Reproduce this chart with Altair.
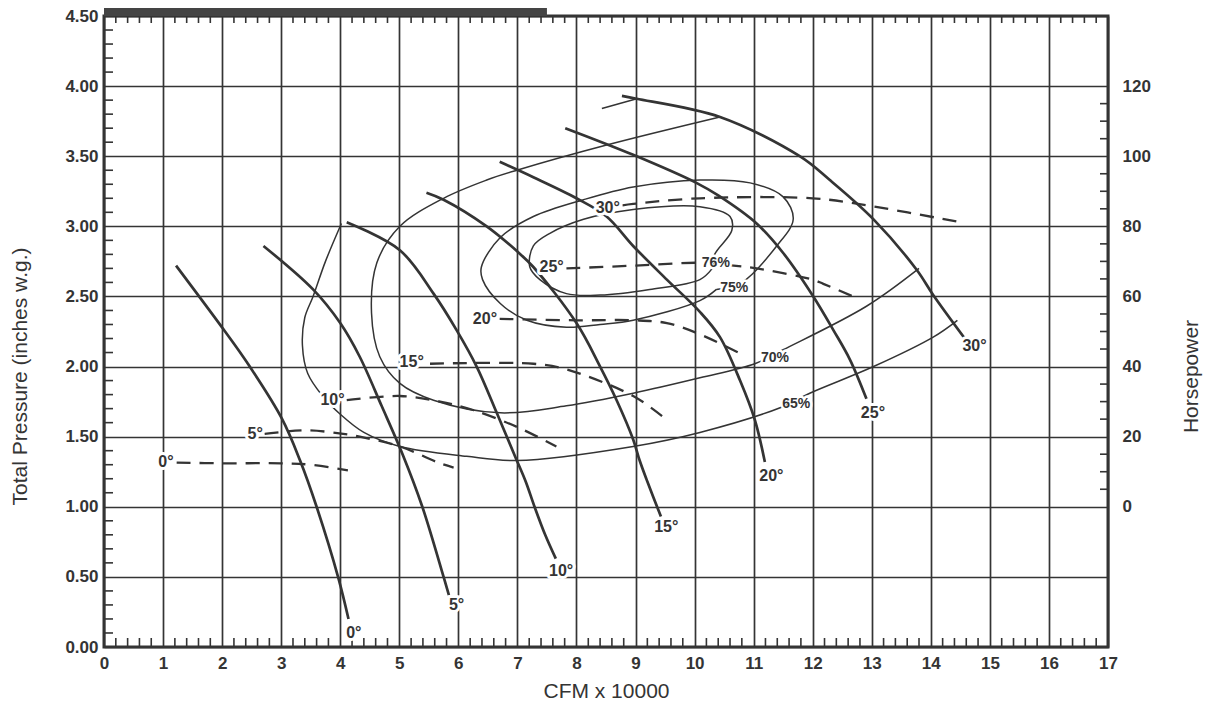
import altair as alt
import pandas as pd

W, H = 1004, 631
INK = "#343434"
FONT = "Liberation Sans"

# ---------------- axis values ----------------
x_major = list(range(0, 18))
y_major = [0.0, 0.5, 1.0, 1.5, 2.0, 2.5, 3.0, 3.5, 4.0, 4.5]
hp_at_pressure = [1.0, 1.5, 2.0, 2.5, 3.0, 3.5, 4.0]   # 0..120 HP
x_minor = [round(i * 0.2, 2) for i in range(1, 85) if i % 5]
y_minor = [round(i * 0.1, 2) for i in range(1, 45) if i % 5]
r_minor = [round(1 + i * 0.125, 3) for i in range(1, 24) if i % 4]

# ---------------- pressure curves (solid, thick) ----------------
P0_X = [1.22, 2.05, 2.42, 3.01, 3.32, 3.60, 3.97, 4.14]
P0_Y = [2.72, 2.25, 2.03, 1.63, 1.33, 1.00, 0.49, 0.20]
P5_X = [2.70, 3.54, 4.00, 4.33, 4.70, 5.05, 5.39, 5.75, 5.84]
P5_Y = [2.86, 2.55, 2.31, 2.07, 1.72, 1.38, 1.00, 0.50, 0.37]
P10_X = [4.11, 5.01, 5.58, 5.97, 6.31, 6.65, 6.97, 7.14, 7.29, 7.47, 7.65]
P10_Y = [3.03, 2.83, 2.52, 2.26, 2.00, 1.67, 1.35, 1.18, 1.00, 0.80, 0.63]
P15_X = [5.46, 5.75, 6.48, 7.00, 7.27, 8.00, 8.40, 8.68, 8.96, 9.07, 9.20, 9.43]
P15_Y = [3.24, 3.19, 3.00, 2.82, 2.71, 2.31, 2.00, 1.76, 1.48, 1.33, 1.18, 0.93]
P20_X = [6.70, 7.27, 8.00, 8.51, 8.96, 9.53, 10.09, 10.43, 10.77, 11.02, 11.19]
P20_Y = [3.46, 3.35, 3.20, 3.07, 2.86, 2.62, 2.39, 2.21, 1.90, 1.62, 1.32]
P25_X = [7.81, 8.96, 10.03, 10.40, 11.05, 11.50, 12.01, 12.35, 12.63, 12.91]
P25_Y = [3.70, 3.51, 3.31, 3.22, 3.02, 2.81, 2.50, 2.26, 2.05, 1.77]
P30_X = [8.77, 9.02, 10.43, 11.78, 12.29, 13.03, 13.76, 14.04, 14.61]
P30_Y = [3.93, 3.91, 3.78, 3.50, 3.33, 3.05, 2.69, 2.51, 2.18]

# ---------------- horsepower curves (dashed) ----------------
H0_X = [1.23, 2.00, 3.00, 3.50, 4.13]
H0_Y = [1.315, 1.31, 1.31, 1.30, 1.26]
H5_X = [2.72, 3.43, 4.05, 4.33, 5.01, 5.69, 5.92]
H5_Y = [1.52, 1.545, 1.52, 1.50, 1.43, 1.31, 1.28]
H10_X = [4.11, 5.01, 5.69, 6.25, 6.99, 7.66]
H10_Y = [1.76, 1.79, 1.75, 1.69, 1.57, 1.43]
H15_X = [5.52, 7.27, 7.83, 8.96, 9.47]
H15_Y = [2.02, 2.02, 1.98, 1.79, 1.64]
H20_X = [6.70, 8.00, 8.96, 9.53, 10.09, 10.83]
H20_Y = [2.34, 2.33, 2.33, 2.31, 2.23, 2.08]
H25_X = [7.83, 9.00, 10.09, 10.66, 11.05, 12.00, 12.18, 12.74]
H25_Y = [2.70, 2.72, 2.74, 2.72, 2.70, 2.62, 2.59, 2.49]
H30_X = [8.78, 8.96, 10.09, 12.00, 12.91, 14.49]
H30_Y = [3.15, 3.16, 3.20, 3.20, 3.15, 3.03]

# ---------------- efficiency contours (thin) ----------------
E65_X = [14.45, 14.04, 13.03, 11.95, 11.47, 10.09, 8.96, 6.99, 6.14, 5.01, 4.40, 4.00,
         3.70, 3.45, 3.36, 3.40, 3.54, 3.75, 4.02]
E65_Y = [2.33, 2.21, 2.00, 1.81, 1.71, 1.53, 1.43, 1.33, 1.36, 1.43, 1.53, 1.66,
         1.79, 1.95, 2.15, 2.35, 2.50, 2.75, 3.02]
E70_X = [10.43, 8.51, 6.99, 6.48, 5.75, 5.01, 4.62, 4.53, 4.67, 5.01, 5.58, 6.71,
         7.83, 8.96, 10.09, 11.02, 11.50, 12.91, 13.80]
E70_Y = [3.78, 3.58, 3.40, 3.33, 3.20, 3.00, 2.74, 2.38, 2.07, 1.88, 1.76, 1.67,
         1.72, 1.81, 1.92, 2.02, 2.12, 2.43, 2.70]
E75_X = [10.37, 10.09, 8.96, 8.40, 7.83, 7.16, 6.71, 6.41, 6.39, 6.71, 7.27, 8.12,
         8.96, 10.09, 10.94, 11.50, 11.67, 11.39, 10.80, 10.37]
E75_Y = [2.55, 2.47, 2.33, 2.30, 2.28, 2.33, 2.45, 2.62, 2.71, 2.92, 3.07, 3.19,
         3.28, 3.33, 3.31, 3.21, 3.05, 2.86, 2.60, 2.55]
E76_X = [10.30, 10.09, 9.24, 8.40, 7.83, 7.38, 7.21, 7.27, 7.55, 8.12, 8.96, 10.09,
         10.60, 10.63, 10.34, 10.30]
E76_Y = [2.70, 2.62, 2.55, 2.51, 2.52, 2.62, 2.71, 2.86, 2.95, 3.05, 3.12, 3.14,
         3.07, 2.97, 2.80, 2.70]
TOP_X = [8.43, 9.02]
TOP_Y = [3.84, 3.91]

# ---------------- labels ----------------
P_LAB = ["0°", "5°", "10°", "15°", "20°", "25°", "30°"]
P_LAB_X = [4.23, 5.97, 7.74, 9.52, 11.30, 13.02, 14.74]
P_LAB_Y = [0.10, 0.30, 0.545, 0.855, 1.22, 1.67, 2.15]
H_LAB = ["0°", "5°", "10°", "15°", "20°", "25°", "30°"]
H_LAB_X = [1.05, 2.56, 3.87, 5.21, 6.45, 7.58, 8.53]
H_LAB_Y = [1.32, 1.52, 1.76, 2.03, 2.34, 2.71, 3.13]
E_LAB = ["65%", "70%", "75%", "76%"]
E_LAB_X = [11.72, 11.36, 10.67, 10.36]
E_LAB_Y = [1.73, 2.06, 2.56, 2.74]


def long(pairs):
    frames = []
    for name, xs, ys in pairs:
        frames.append(pd.DataFrame({"curve": name, "x": xs, "y": ys, "i": list(range(len(xs)))}))
    return pd.concat(frames, ignore_index=True)


df_p = long([("p0", P0_X, P0_Y), ("p5", P5_X, P5_Y), ("p10", P10_X, P10_Y), ("p15", P15_X, P15_Y),
             ("p20", P20_X, P20_Y), ("p25", P25_X, P25_Y), ("p30", P30_X, P30_Y)])
df_h = long([("h0", H0_X, H0_Y), ("h5", H5_X, H5_Y), ("h10", H10_X, H10_Y), ("h15", H15_X, H15_Y),
             ("h20", H20_X, H20_Y), ("h25", H25_X, H25_Y), ("h30", H30_X, H30_Y)])
df_e = long([("e65", E65_X, E65_Y), ("e70", E70_X, E70_Y), ("e75", E75_X, E75_Y),
             ("e76", E76_X, E76_Y), ("top", TOP_X, TOP_Y)])

df_lab_big = pd.DataFrame({"x": P_LAB_X + H_LAB_X, "y": P_LAB_Y + H_LAB_Y, "t": P_LAB + H_LAB})
df_lab_small = pd.DataFrame({"x": E_LAB_X, "y": E_LAB_Y, "t": E_LAB})

xs = alt.Scale(domain=[0, 17], nice=False, zero=False)
ys = alt.Scale(domain=[0, 4.5], nice=False, zero=False)

x_axis = alt.Axis(values=x_major, grid=True, ticks=False, domain=False, labelPadding=8,
                  labelFlush=False, labelOverlap=False, format="d",
                  title="CFM x 10000", titleY=44, titleBaseline="middle")
y_axis = alt.Axis(values=y_major, grid=True, ticks=False, domain=False, labelPadding=6,
                  labelFlush=False, labelOverlap=False, format=".2f",
                  title="Total Pressure (inches w.g.)", titleX=-84, titleY=360,
                  titleAngle=270, titleBaseline="middle")

X = alt.X("x:Q", scale=xs, axis=x_axis)
Y = alt.Y("y:Q", scale=ys, axis=y_axis)

bar = alt.Chart(pd.DataFrame({"x": [0.0], "x2": [7.5]})).mark_rect(color="#444444").encode(
    x=X, x2="x2:Q", y=alt.value(-16), y2=alt.value(0))

bot_ticks = alt.Chart(pd.DataFrame({"x": x_minor})).mark_rule(color=INK, strokeWidth=1.6).encode(
    x=X, y=alt.value(H), y2=alt.value(H - 9))
top_ticks = alt.Chart(pd.DataFrame({"x": x_minor})).mark_rule(color=INK, strokeWidth=1.6).encode(
    x=X, y=alt.value(0), y2=alt.value(7))
left_ticks = alt.Chart(pd.DataFrame({"y": y_minor})).mark_rule(color=INK, strokeWidth=1.6).encode(
    y=Y, x=alt.value(0), x2=alt.value(9))

contours = alt.Chart(df_e).mark_line(color=INK, strokeWidth=1.5, interpolate="catmull-rom").encode(
    x=X, y=Y, detail="curve:N", order="i:Q")
hp = alt.Chart(df_h).mark_line(color=INK, strokeWidth=2.3, strokeDash=[14, 9],
                               interpolate="catmull-rom").encode(
    x=X, y=Y, detail="curve:N", order="i:Q")
press = alt.Chart(df_p).mark_line(color=INK, strokeWidth=2.7, interpolate="catmull-rom").encode(
    x=X, y=Y, detail="curve:N", order="i:Q")

halo_big = alt.Chart(df_lab_big).mark_text(font=FONT, fontSize=16, fontWeight="bold", color="white",
                                           stroke="white", strokeWidth=6, strokeJoin="round").encode(
    x=X, y=Y, text="t:N")
text_big = alt.Chart(df_lab_big).mark_text(font=FONT, fontSize=16, fontWeight="bold", color=INK).encode(
    x=X, y=Y, text="t:N")
halo_small = alt.Chart(df_lab_small).mark_text(font=FONT, fontSize=14, fontWeight="bold", color="white",
                                               stroke="white", strokeWidth=5, strokeJoin="round").encode(
    x=X, y=Y, text="t:N")
text_small = alt.Chart(df_lab_small).mark_text(font=FONT, fontSize=14, fontWeight="bold", color=INK).encode(
    x=X, y=Y, text="t:N")

main = alt.layer(bar, bot_ticks, top_ticks, left_ticks, contours, hp, press,
                 halo_big, halo_small, text_big, text_small)

right_axis = alt.Axis(orient="right", values=hp_at_pressure, grid=False, ticks=False, domain=False,
                      labelExpr="format((datum.value - 1) * 40, 'd')", labelPadding=14,
                      labelFlush=False, labelOverlap=False,
                      title="Horsepower", titleX=83, titleY=360, titleAngle=270,
                      titleBaseline="middle")
right = alt.Chart(pd.DataFrame({"y": r_minor})).mark_rule(color=INK, strokeWidth=1.6).encode(
    y=alt.Y("y:Q", scale=alt.Scale(domain=[0, 4.5], nice=False, zero=False), axis=right_axis),
    x=alt.value(W), x2=alt.value(W - 8))

chart = alt.layer(main, right).resolve_scale(y="independent").properties(
    width=W, height=H,
    autosize=alt.AutoSizeParams(type="none"),
    padding={"left": 96, "top": 8, "right": 97, "bottom": 57},
).configure_view(stroke=INK, strokeWidth=3).configure_axis(
    labelFont=FONT, labelFontSize=17, labelFontWeight="bold", labelColor=INK,
    titleFont=FONT, titleFontSize=21, titleFontWeight="normal", titleColor=INK,
    gridColor=INK, gridWidth=1.7, gridOpacity=1,
)

chart.save("out.html", embed_options={"renderer": "svg", "actions": False})
